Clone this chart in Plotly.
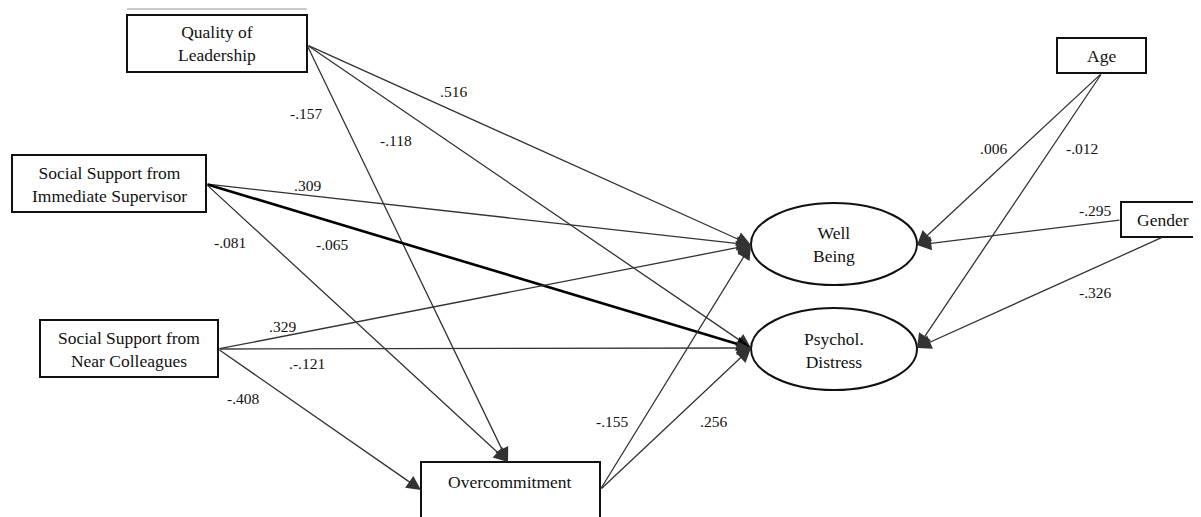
import plotly.graph_objects as go

# ---------------- data ----------------
node_names = ["QoL", "SSIS", "SSNC", "OC", "WB", "PD", "Age", "Gender"]
node_labels = ["Quality of<br>Leadership",
               "Social Support from<br>Immediate Supervisor",
               "Social Support from<br>Near Colleagues",
               "Overcommitment",
               "Well<br>Being",
               "Psychol.<br>Distress",
               "Age",
               "Gender"]

path_from = ["QoL", "QoL", "QoL", "SSIS", "SSIS", "SSIS", "SSNC", "SSNC", "SSNC",
             "OC", "OC", "Age", "Age", "Gender", "Gender"]
path_to = ["OC", "PD", "WB", "WB", "PD", "OC", "WB", "PD", "OC",
           "WB", "PD", "WB", "PD", "WB", "PD"]
coef_labels = ["-.157", "-.118", ".516", ".309", "-.065", "-.081", ".329", ".-.121", "-.408",
               "-.155", ".256", ".006", "-.012", "-.295", "-.326"]

# ---------------- layout geometry ----------------
boxes = {
    "QoL": (127, 307, 15, 72),
    "SSIS": (12, 206, 155, 212),
    "SSNC": (40, 218, 320, 377),
    "OC": (421, 600, 462, 540),
    "Age": (1057, 1146, 38, 73),
    "Gender": (1121, 1201, 202, 237),
}
ellipses = {"WB": (834, 244, 83, 41), "PD": (834, 349, 83, 41)}
text_pos = {
    "QoL": (217, 43), "SSIS": (109, 184), "SSNC": (129, 349), "OC": (510, 482),
    "WB": (834, 244), "PD": (834, 350), "Age": (1101, 56), "Gender": (1163, 220),
}
src_port = {("QoL", "any"): (307, 45), ("SSIS", "any"): (206, 184), ("SSNC", "any"): (218, 349),
            ("OC", "any"): (600, 490), ("Age", "any"): (1102, 73),
            ("Gender", "WB"): (1121, 220), ("Gender", "PD"): (1163, 237)}
tgt_port = {("OC", "top"): (508, 462), ("OC", "left"): (421, 490),
            ("WB", "left"): (751, 245), ("WB", "right"): (917, 245),
            ("PD", "left"): (751, 348), ("PD", "right"): (917, 348)}
label_pos = [(306, 113), (396, 140), (453, 91), (307, 185), (332, 244), (230, 242),
             (282, 326), (307, 363), (243, 398), (612, 421), (713, 421),
             (993, 148), (1082, 148), (1095, 210), (1095, 292)]

FONT = "Liberation Serif, Times New Roman, serif"
PAGE_MARGIN = 8  # default body margin of the html page

fig = go.Figure()
shapes = []
annotations = []

shapes.append(dict(type="line", x0=127, x1=307, y0=9, y1=9, xref="x", yref="y",
                   line=dict(color="#9a9a9a", width=1.2)))

for n, (x0, x1, y0, y1) in boxes.items():
    shapes.append(dict(type="rect", x0=x0, x1=x1, y0=y0, y1=y1, xref="x", yref="y",
                       line=dict(color="#111", width=2), fillcolor="white", layer="above"))
for n, (cx, cy, rx, ry) in ellipses.items():
    shapes.append(dict(type="circle", x0=cx - rx, x1=cx + rx, y0=cy - ry, y1=cy + ry,
                       xref="x", yref="y", line=dict(color="#111", width=2), fillcolor="white",
                       layer="above"))

right_side = {"Age", "Gender"}
for i, (s, t) in enumerate(zip(path_from, path_to)):
    sp = src_port.get((s, t), src_port.get((s, "any")))
    if t == "OC":
        tp = tgt_port[("OC", "left" if s == "SSNC" else "top")]
    else:
        tp = tgt_port[(t, "right" if s in right_side else "left")]
    thick = (s == "SSIS" and t == "PD")
    annotations.append(dict(
        x=tp[0], y=tp[1], ax=sp[0], ay=sp[1], xref="x", yref="y", axref="x", ayref="y",
        text="", showarrow=True, arrowhead=2,
        arrowsize=1.1 if thick else 2.2, arrowwidth=2.6 if thick else 1.3,
        arrowcolor="#000" if thick else "#333", standoff=0, startstandoff=0))
    lx, ly = label_pos[i]
    annotations.append(dict(x=lx, y=ly, xref="x", yref="y", text=coef_labels[i],
                            showarrow=False, font=dict(family=FONT, size=15.5, color="#111")))

for n, lab in zip(node_names, node_labels):
    x, y = text_pos[n]
    annotations.append(dict(x=x, y=y, xref="x", yref="y", text=lab, showarrow=False,
                            font=dict(family=FONT, size=17.5, color="#111")))

W, H = 1201, 517
fig.update_layout(
    width=W - PAGE_MARGIN, height=H - PAGE_MARGIN, margin=dict(l=0, r=0, t=0, b=0),
    paper_bgcolor="white", plot_bgcolor="white", showlegend=False,
    xaxis=dict(range=[PAGE_MARGIN, W], visible=False, fixedrange=True),
    yaxis=dict(range=[H, PAGE_MARGIN], visible=False, fixedrange=True),
    shapes=shapes, annotations=annotations,
)
fig.write_html("out.html")
